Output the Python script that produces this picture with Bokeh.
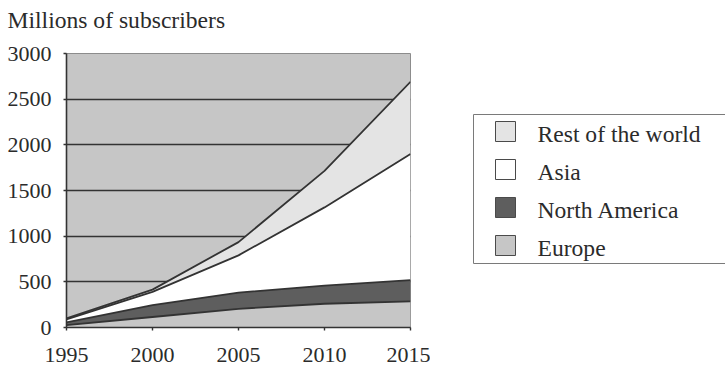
from bokeh.plotting import figure
from bokeh.layouts import row, column
from bokeh.models import ColumnDataSource, Range1d, FixedTicker
from bokeh.embed import file_html
from bokeh.resources import INLINE

# Mobile subscribers by region, millions
years = [1995, 2000, 2005, 2010, 2015]
europe = [25, 115, 205, 260, 285]
north_america = [30, 130, 177, 198, 233]
asia = [35, 145, 408, 857, 1382]
rest_of_world = [10, 25, 145, 400, 790]

y_ticks = [0, 500, 1000, 1500, 2000, 2500, 3000]

series = ["europe", "north_america", "asia", "rest_of_world"]
series_labels = ["Europe", "North America", "Asia", "Rest of the world"]
fills = ["#c6c6c6", "#5e5e5e", "#ffffff", "#e4e4e4"]

FONT = "Liberation Serif"
INK = "#2b2b2b"
W, H = 725, 371
TITLE_H = 40
CHART_W = 430
LEFT, RIGHT = 66, 20

source = ColumnDataSource(dict(
    year=years,
    europe=europe,
    north_america=north_america,
    asia=asia,
    rest_of_world=rest_of_world,
))

# ---- title strip (its frame lines up with the chart frame below it)
head = figure(width=CHART_W, height=TITLE_H, title="Millions of subscribers",
              x_axis_type=None, y_axis_type=None,
              output_backend="svg", toolbar_location=None,
              min_border_left=LEFT, min_border_right=RIGHT,
              min_border_top=0, min_border_bottom=0,
              outline_line_color=None, background_fill_color="white",
              border_fill_color="white")
head.title.align = "left"
head.title.offset = 7 - LEFT
head.title.standoff = 8
head.title.text_font = FONT
head.title.text_font_size = "23.6px"
head.title.text_font_style = "normal"
head.title.text_color = INK

# ---- stacked area chart
p = figure(
    width=CHART_W, height=H - TITLE_H, title=None,
    x_range=Range1d(years[0], years[-1]),
    y_range=Range1d(y_ticks[0], y_ticks[-1]),
    output_backend="svg", toolbar_location=None,
    min_border_left=LEFT, min_border_right=RIGHT,
    min_border_top=53 - TITLE_H, min_border_bottom=44,
    background_fill_color="#c6c6c6", border_fill_color="white",
    outline_line_color="#8c8c8c", outline_line_width=1,
)

p.varea_stack(series, x="year", source=source, fill_color=fills)
p.vline_stack(series, x="year", source=source, line_color="#333333", line_width=1.8)

p.xaxis.ticker = FixedTicker(ticks=years)
p.yaxis.ticker = FixedTicker(ticks=y_ticks)
for ax in (p.xaxis[0], p.yaxis[0]):
    ax.axis_line_color = "#333333"
    ax.axis_line_width = 1.6
    ax.major_tick_line_color = "#333333"
    ax.major_tick_line_width = 1.4
    ax.major_tick_out = 3
    ax.major_tick_in = 0
    ax.minor_tick_line_color = None
    ax.major_label_text_font = FONT
    ax.major_label_text_font_size = "22px"
    ax.major_label_text_color = INK
p.xaxis.major_label_standoff = 17
p.yaxis.major_label_standoff = 12

p.xgrid.visible = False
p.ygrid.ticker = FixedTicker(ticks=y_ticks[1:-1])
p.ygrid.grid_line_color = "#333333"
p.ygrid.grid_line_width = 1.6

# ---- legend panel: a pixel canvas, y measured up from its bottom edge
SIDE_W = W - CHART_W
side = figure(width=SIDE_W, height=H, title=None,
              x_range=Range1d(0, SIDE_W), y_range=Range1d(0, H),
              x_axis_type=None, y_axis_type=None,
              output_backend="svg", toolbar_location=None,
              min_border=0, outline_line_color=None,
              background_fill_color="white", border_fill_color="white")

box_left, box_top, box_bottom = 473 - CHART_W, 114, 263
side.quad(left=[box_left], right=[SIDE_W + 10], top=[H - box_top], bottom=[H - box_bottom],
          fill_color="white", line_color="#7a7a7a", line_width=1)

# entries top to bottom, in reverse stacking order
order = list(range(len(series)))[::-1]
row_y = [H - (131 + 38 * i) for i in range(len(order))]
sw = 20
sw_left = 495 - CHART_W
side.quad(left=[sw_left] * len(order), right=[sw_left + sw] * len(order),
          top=[y + sw / 2 for y in row_y], bottom=[y - sw / 2 for y in row_y],
          fill_color=[fills[k] for k in order], line_color="#4a4a4a", line_width=1)
side.text(x=[537 - CHART_W] * len(order), y=[y - 2 for y in row_y],
          text=[series_labels[k] for k in order],
          text_font={"value": FONT}, text_font_size="23.6px", text_color=INK,
          text_align="left", text_baseline="alphabetic")

layout = row(column(head, p), side)
open("out.html", "w").write(file_html(layout, INLINE))
